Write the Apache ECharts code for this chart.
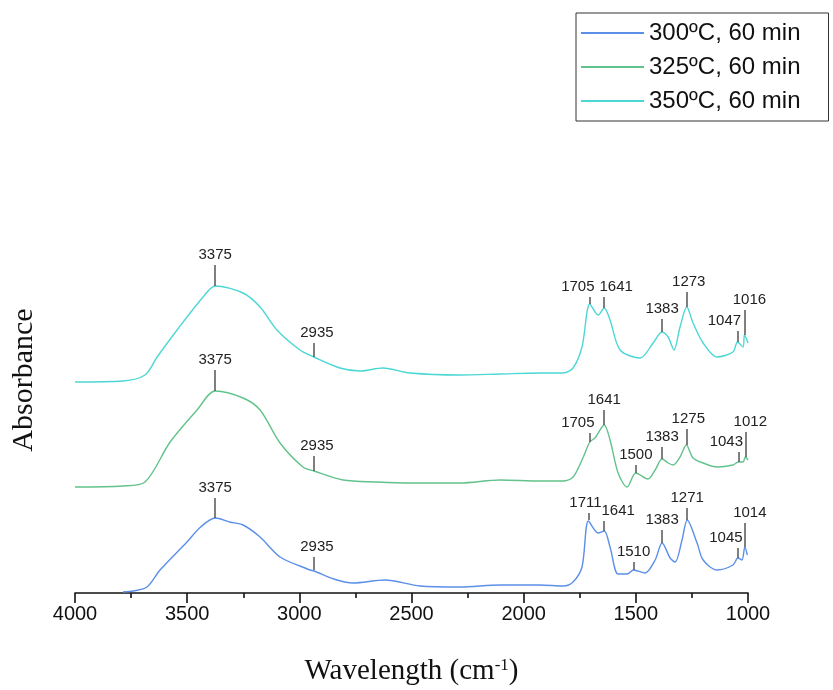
<!DOCTYPE html>
<html>
<head>
<meta charset="utf-8">
<title>FTIR</title>
<script src="https://cdn.jsdelivr.net/npm/echarts@6.0.0/dist/echarts.min.js"></script>
<style>
  html, body { margin: 0; padding: 0; background: #fff; }
  #myChart { width: 833px; height: 690px; }
</style>
</head>
<body>
<div id="myChart"></div>
<script>
// wavenumber (cm-1) and absorbance (arb. offset units)
var seriesNames = ['300ºC, 60 min', '325ºC, 60 min', '350ºC, 60 min']

var wn300 = [3786, 3740, 3679, 3621, 3501, 3440, 3375, 3310, 3251, 3175, 3086, 2952, 2935, 2832, 2761, 2618, 2462, 2284, 2105, 1927, 1824, 1780, 1740, 1711, 1668, 1641, 1615, 1579, 1539, 1510, 1459, 1414, 1383, 1347, 1325, 1294, 1271, 1227, 1200, 1138, 1067, 1045, 1027, 1014, 1003]
var abs300 = [1, 2, 6, 23, 51, 66, 75, 71, 68, 56, 36, 23, 22, 13, 10, 13, 7, 6, 8, 8, 7, 11, 26, 72, 60, 62, 46, 19, 19, 23, 20, 33, 50, 35, 31, 53, 73, 50, 33, 23, 28, 35, 33, 46, 38]

var wn325 = [4000, 3786, 3688, 3576, 3456, 3375, 3251, 3175, 3086, 2984, 2935, 2805, 2654, 2507, 2284, 2105, 1927, 1824, 1780, 1740, 1705, 1682, 1641, 1615, 1579, 1539, 1500, 1446, 1414, 1383, 1356, 1334, 1303, 1275, 1245, 1200, 1138, 1067, 1043, 1022, 1012, 1000]
var abs325 = [106, 107, 111, 151, 183, 202, 195, 183, 150, 126, 122, 113, 111, 110, 110, 113, 112, 112, 116, 133, 151, 155, 168, 153, 120, 106, 120, 114, 123, 134, 130, 128, 136, 148, 135, 130, 126, 128, 131, 131, 136, 133]

var wn350 = [4000, 3786, 3688, 3634, 3545, 3429, 3375, 3251, 3175, 3100, 2997, 2935, 2819, 2729, 2627, 2507, 2284, 2105, 1927, 1824, 1780, 1740, 1705, 1668, 1641, 1615, 1570, 1481, 1423, 1383, 1356, 1330, 1303, 1273, 1245, 1200, 1138, 1067, 1047, 1022, 1016, 1000]
var abs350 = [211, 212, 218, 236, 263, 296, 307, 300, 286, 263, 243, 236, 225, 222, 225, 220, 218, 219, 220, 220, 225, 246, 289, 278, 285, 273, 243, 235, 250, 261, 256, 243, 266, 286, 270, 250, 236, 241, 251, 246, 258, 250]

// peak labels: position, where the tick leaves the curve, where it ends
var peaks300 = [3375, 2935, 1711, 1641, 1510, 1383, 1271, 1045, 1014]
var base300 = [75, 23, 73, 62, 23, 50, 73, 35, 46]
var top300 = [95, 36, 80, 72, 31, 63, 85, 45, 70]

var peaks325 = [3375, 2935, 1705, 1641, 1500, 1383, 1275, 1043, 1012]
var base325 = [202, 122, 151, 168, 120, 134, 148, 131, 136]
var top325 = [223, 137, 160, 183, 128, 146, 164, 141, 161]

var peaks350 = [3375, 2935, 1705, 1641, 1383, 1273, 1047, 1016]
var base350 = [307, 236, 289, 285, 261, 286, 251, 258]
var top350 = [328, 250, 296, 296, 274, 301, 262, 283]

var xTicks = [4000, 3500, 3000, 2500, 2000, 1500, 1000]

var colors = ['#5b8fe8', '#62c28b', '#4cd7d5']

// sideways nudge (px) of some crowded peak labels
var labelNudge = {
  '0-1711': -3, '0-1641': 14, '0-1045': -12, '0-1014': 5, '0-2935': 3,
  '1-1705': -12, '1-1043': -12, '1-1012': 5, '1-1275': 2, '1-2935': 3,
  '2-1705': -12, '2-1641': 12, '2-1047': -13, '2-1016': 5, '2-1273': 2, '2-2935': 3
}

function pairs (xs, ys) {
  var out = []
  for (var i = 0; i < xs.length; i++) {
    out.push([xs[i], ys[i]])
  }
  return out
}

function peakLines (idx, peaks, base, top) {
  var out = []
  for (var i = 0; i < peaks.length; i++) {
    var dx = labelNudge[idx + '-' + peaks[i]] || 0
    out.push([
      { name: String(peaks[i]), coord: [peaks[i], base[i]] },
      { coord: [peaks[i], top[i]], label: { offset: [dx, 0] } }
    ])
  }
  return out
}

function makeSeries (idx, xs, ys, peaks, base, top) {
  return {
    name: seriesNames[idx],
    type: 'line',
    data: pairs(xs, ys),
    symbol: 'none',
    smooth: 0.3,
    color: colors[idx],
    lineStyle: { width: 1.4, color: colors[idx] },
    z: 3,
    markLine: {
      silent: true,
      symbol: ['none', 'none'],
      animation: false,
      lineStyle: { color: '#555', width: 1.5, type: 'solid' },
      label: {
        show: true,
        position: 'end',
        distance: 3,
        formatter: '{b}',
        color: '#222',
        fontFamily: 'Liberation Sans',
        fontSize: 15
      },
      emphasis: { disabled: true },
      data: peakLines(idx, peaks, base, top)
    }
  }
}

var chart = echarts.init(document.getElementById('myChart'))
chart.setOption({
  animation: false,
  backgroundColor: '#fff',
  grid: {
    left: 75,
    right: 85,
    top: 167,
    bottom: 97,
    outerBoundsMode: 'none'
  },
  legend: {
    orient: 'vertical',
    left: 576,
    top: 13,
    padding: [8, 28, 8, 4],
    itemGap: 10,
    itemWidth: 63,
    itemHeight: 24,
    backgroundColor: '#fff',
    borderColor: '#333',
    borderWidth: 1,
    borderRadius: 0,
    itemStyle: { opacity: 0 },
    lineStyle: { width: 2 },
    textStyle: {
      fontFamily: 'Liberation Sans',
      fontSize: 24,
      color: '#111'
    },
    data: seriesNames
  },
  xAxis: {
    type: 'value',
    min: 1000,
    max: 4000,
    interval: 500,
    inverse: true,
    name: 'Wavelength (cm{sup|-1})',
    nameLocation: 'middle',
    nameGap: 64,
    nameTextStyle: {
      fontFamily: 'Liberation Serif',
      fontSize: 29,
      color: '#111',
      rich: {
        sup: {
          fontFamily: 'Liberation Serif',
          fontSize: 17,
          color: '#111',
          verticalAlign: 'top',
          padding: [0, 0, 12, 0]
        }
      }
    },
    axisLine: { show: true, lineStyle: { color: '#111', width: 1.6 } },
    axisTick: { show: true, inside: false, length: 10, lineStyle: { color: '#111', width: 1.6 } },
    minorTick: { show: true, splitNumber: 2, length: 5, lineStyle: { color: '#111', width: 1.6 } },
    splitLine: { show: false },
    axisLabel: {
      margin: 11,
      fontFamily: 'Liberation Sans',
      fontSize: 20,
      color: '#111',
      formatter: function (v) { return String(v) },
      customValues: xTicks
    }
  },
  yAxis: {
    type: 'value',
    min: 0,
    max: 426,
    name: 'Absorbance',
    nameLocation: 'middle',
    nameRotate: 90,
    nameGap: 36,
    nameTextStyle: {
      fontFamily: 'Liberation Serif',
      fontSize: 30,
      color: '#111'
    },
    axisLine: { show: false },
    axisTick: { show: false },
    axisLabel: { show: false },
    splitLine: { show: false }
  },
  series: [
    makeSeries(0, wn300, abs300, peaks300, base300, top300),
    makeSeries(1, wn325, abs325, peaks325, base325, top325),
    makeSeries(2, wn350, abs350, peaks350, base350, top350)
  ]
})
</script>
</body>
</html>
